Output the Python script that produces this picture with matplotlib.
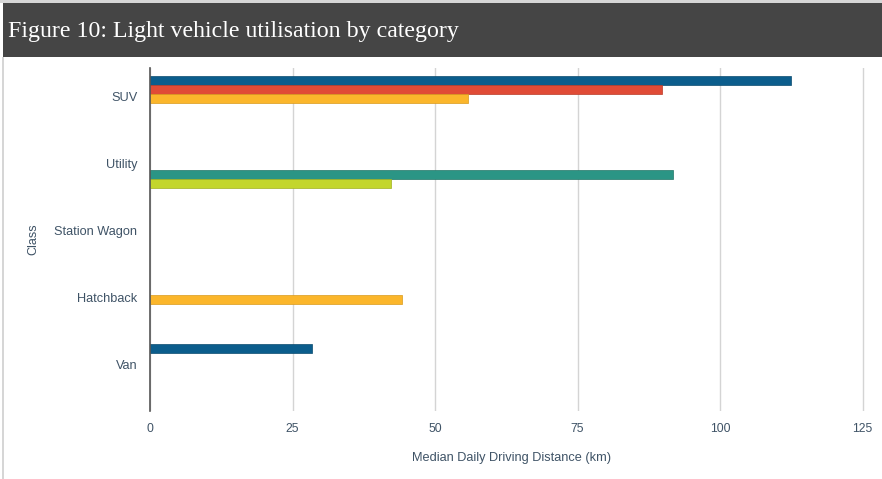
import matplotlib
matplotlib.use('Agg')
import matplotlib.pyplot as plt
from matplotlib.patches import Rectangle
import numpy as np

# Data (median daily driving distance, km); NaN = no bar
classes = ['SUV', 'Utility', 'Station Wagon', 'Hatchback', 'Van']
series_1 = [112.4, np.nan, np.nan, np.nan, 28.4]   # dark blue
series_2 = [89.8, np.nan, np.nan, np.nan, np.nan]  # red
series_3 = [55.8, np.nan, np.nan, 44.2, np.nan]    # orange
series_4 = [np.nan, 91.8, np.nan, np.nan, np.nan]  # teal
series_5 = [np.nan, 42.3, np.nan, np.nan, np.nan]  # lime
x_ticks = [0, 25, 50, 75, 100, 125]

W, H = 882, 479
fig = plt.figure(figsize=(W / 100, H / 100), dpi=100)
fig.patch.set_facecolor('white')

# header band + light frame
fig.patches.append(Rectangle((0, 1 - 3 / H), 1, 3 / H, transform=fig.transFigure,
                             facecolor='#d6d6d6', edgecolor='none'))
fig.patches.append(Rectangle((3 / W, 1 - 57 / H), 1, 54 / H, transform=fig.transFigure,
                             facecolor='#454545', edgecolor='none'))
fig.patches.append(Rectangle((2 / W, 0), 2 / W, 1 - 57 / H, transform=fig.transFigure,
                             facecolor='#d6d6d6', edgecolor='none'))
fig.text(8 / W, 1 - 31 / H, 'Figure 10: Light vehicle utilisation by category',
         family='Liberation Serif', fontsize=17.2, color='white', va='center', ha='left')

# plot area
left, right = 150 / W, 874 / W
top, bottom = 1 - 68 / H, 1 - 411 / H
ax = fig.add_axes([left, bottom, right - left, top - bottom])

colors = ['#0b5d8c', '#e04b36', '#fbb62b', '#2b9585', '#c3d62c']
edges = ['#0a4a6e', '#b93a27', '#d99a1c', '#207566', '#a0b020']
series = [series_1, series_2, series_3, series_4, series_5]
slot = 0.135
y = np.arange(len(classes))
for k, (vals, c, e) in enumerate(zip(series, colors, edges)):
    ax.barh(y + (k - 2) * slot + 0.03, vals, height=slot, color=c, edgecolor=e,
            linewidth=0.5, zorder=3)

ax.set_xlim(0, 127)
ax.set_ylim(4.69, -0.43)
ax.set_xticks(x_ticks)
ax.set_yticks(y)
ax.set_yticklabels(classes)
ax.grid(axis='x', color='#d4d4d4', linewidth=1, zorder=0)
ax.grid(axis='y', visible=False)
for s in ['top', 'right', 'bottom']:
    ax.spines[s].set_visible(False)
ax.spines['left'].set_color('#555555')
ax.spines['left'].set_linewidth(1.2)
ax.spines['left'].set_zorder(4)

lab = '#3f5366'
for t in ax.get_xticklabels() + ax.get_yticklabels():
    t.set_family('Liberation Sans')
ax.tick_params(axis='x', length=0, labelsize=8.7, labelcolor=lab, pad=9)
ax.tick_params(axis='y', length=0, labelsize=9.2, labelcolor=lab, pad=9)
ax.set_xlabel('Median Daily Driving Distance (km)', fontsize=9.2, color=lab,
              labelpad=12, family='Liberation Sans')
ax.set_ylabel('Class', fontsize=9, color=lab, labelpad=11, family='Liberation Sans')

fig.savefig('out.png', dpi=100, facecolor='white')
